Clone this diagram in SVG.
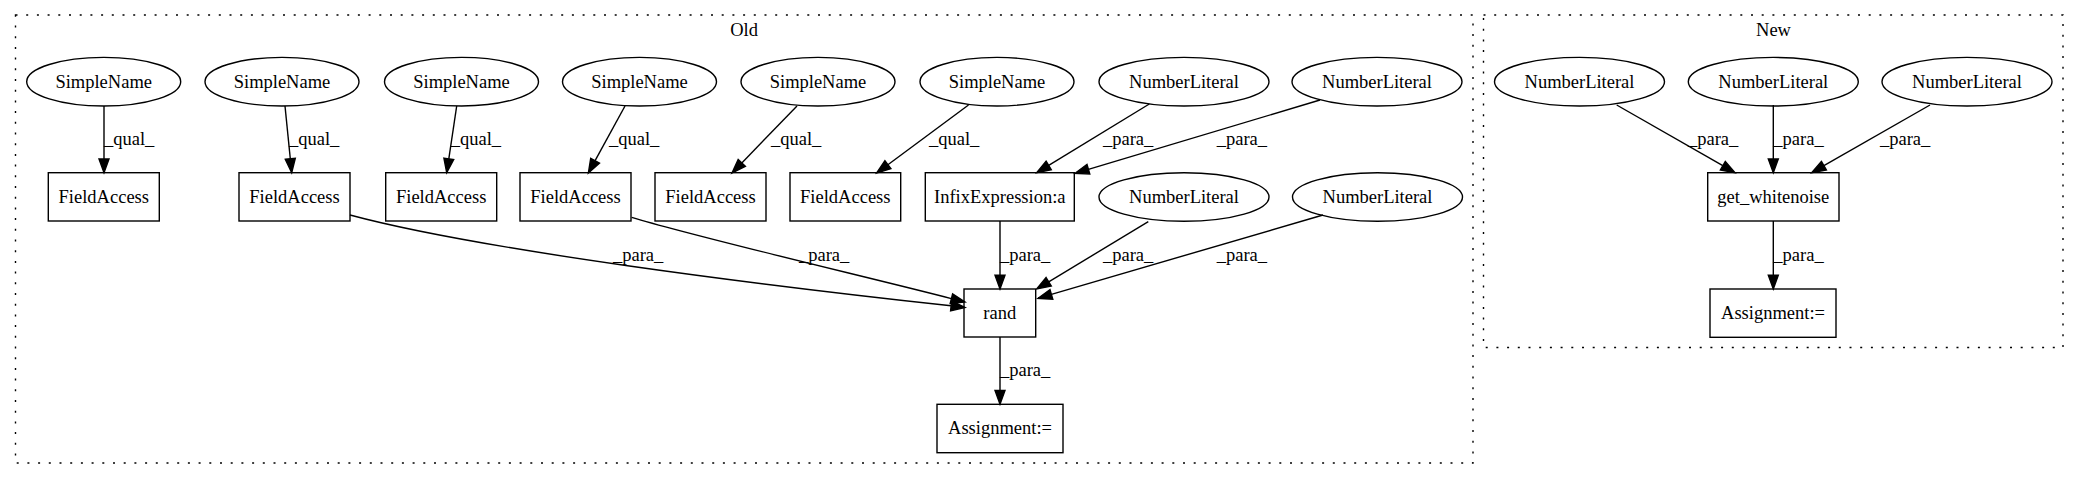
<svg xmlns="http://www.w3.org/2000/svg" width="2079" height="480" viewBox="0 0 2079 480">
<style>
text{font-family:"Liberation Serif","Times New Roman",serif;font-size:18.5px;fill:#000;text-anchor:middle}
.n{fill:none;stroke:#000;stroke-width:1.4}
.c{fill:none;stroke:#000;stroke-width:1.4;stroke-dasharray:2,8.7}
.e{fill:none;stroke:#000;stroke-width:1.4}
.a{fill:#000;stroke:#000;stroke-width:1.4}
.l{text-anchor:start}
</style>
<rect width="2079" height="480" fill="#fff"/>
<g id="cluster-old">
<rect class="c" x="15.5" y="15" width="1457.5" height="448"/>
<text x="744" y="35.5">Old</text>
</g>
<g id="cluster-new">
<rect class="c" x="1483.5" y="15" width="579.5" height="332.5"/>
<text x="1773.5" y="35.5">New</text>
</g>
<g id="sn1"><ellipse class="n" cx="103.7" cy="81.7" rx="77" ry="24.3"/><text x="103.7" y="87.5">SimpleName</text></g>
<g id="sn2"><ellipse class="n" cx="282" cy="81.7" rx="77" ry="24.3"/><text x="282" y="87.5">SimpleName</text></g>
<g id="sn3"><ellipse class="n" cx="461.5" cy="81.7" rx="77" ry="24.3"/><text x="461.5" y="87.5">SimpleName</text></g>
<g id="sn4"><ellipse class="n" cx="639.5" cy="81.7" rx="77" ry="24.3"/><text x="639.5" y="87.5">SimpleName</text></g>
<g id="sn5"><ellipse class="n" cx="818" cy="81.7" rx="77" ry="24.3"/><text x="818" y="87.5">SimpleName</text></g>
<g id="sn6"><ellipse class="n" cx="997" cy="81.7" rx="77" ry="24.3"/><text x="997" y="87.5">SimpleName</text></g>
<g id="nl1"><ellipse class="n" cx="1184" cy="81.7" rx="85" ry="24.3"/><text x="1184" y="87.5">NumberLiteral</text></g>
<g id="nl2"><ellipse class="n" cx="1377" cy="81.7" rx="85" ry="24.3"/><text x="1377" y="87.5">NumberLiteral</text></g>
<g id="fa1"><rect class="n" x="48.3" y="172.7" width="111" height="48.3"/><text x="103.8" y="202.5">FieldAccess</text></g>
<g id="fa2"><rect class="n" x="239" y="172.7" width="111" height="48.3"/><text x="294.5" y="202.5">FieldAccess</text></g>
<g id="fa3"><rect class="n" x="385.7" y="172.7" width="111" height="48.3"/><text x="441.2" y="202.5">FieldAccess</text></g>
<g id="fa4"><rect class="n" x="520" y="172.7" width="111" height="48.3"/><text x="575.5" y="202.5">FieldAccess</text></g>
<g id="fa5"><rect class="n" x="655" y="172.7" width="111" height="48.3"/><text x="710.5" y="202.5">FieldAccess</text></g>
<g id="fa6"><rect class="n" x="790" y="172.7" width="110.7" height="48.3"/><text x="845.3" y="202.5">FieldAccess</text></g>
<g id="infix"><rect class="n" x="925.3" y="172.7" width="149" height="48.3"/><text x="999.8" y="202.5">InfixExpression:a</text></g>
<g id="nl3"><ellipse class="n" cx="1184" cy="197" rx="85" ry="24.3"/><text x="1184" y="202.8">NumberLiteral</text></g>
<g id="nl4"><ellipse class="n" cx="1377.5" cy="197" rx="85" ry="24.3"/><text x="1377.5" y="202.8">NumberLiteral</text></g>
<g id="rand"><rect class="n" x="964" y="289" width="71.7" height="48"/><text x="999.8" y="318.6">rand</text></g>
<g id="assign-old"><rect class="n" x="937" y="404.3" width="126" height="48.4"/><text x="1000" y="434">Assignment:=</text></g>
<g id="nnl1"><ellipse class="n" cx="1579.5" cy="81.7" rx="85" ry="24.3"/><text x="1579.5" y="87.5">NumberLiteral</text></g>
<g id="nnl2"><ellipse class="n" cx="1773.3" cy="81.7" rx="85" ry="24.3"/><text x="1773.3" y="87.5">NumberLiteral</text></g>
<g id="nnl3"><ellipse class="n" cx="1967" cy="81.7" rx="85" ry="24.3"/><text x="1967" y="87.5">NumberLiteral</text></g>
<g id="gw"><rect class="n" x="1707.7" y="172.7" width="131.3" height="48.3"/><text x="1773.3" y="202.5">get_whitenoise</text></g>
<g id="assign-new"><rect class="n" x="1710" y="289" width="126" height="48.3"/><text x="1773" y="318.6">Assignment:=</text></g>
<g id="connectors">
<path class="e" d="M104,106 L104,159"/><polygon class="a" points="99,159 109,159 104,172.7"/>
<text class="l" x="104" y="144.5">_qual_</text>
<path class="e" d="M285,106 L290.3,158.8"/><polygon class="a" points="285.3,159.3 295.3,158.3 291.7,172.7"/>
<text class="l" x="289" y="144.5">_qual_</text>
<path class="e" d="M456.7,106 L448.8,158.9"/><polygon class="a" points="443.9,158.2 453.7,159.6 446.7,172.7"/>
<text class="l" x="450.7" y="144.5">_qual_</text>
<path class="e" d="M625,106 L595.1,160.7"/><polygon class="a" points="590.7,158.3 599.5,163.1 588.4,173"/>
<text class="l" x="609" y="144.5">_qual_</text>
<path class="e" d="M797,106 L741.8,162.9"/><polygon class="a" points="738.2,159.4 745.4,166.4 732,173"/>
<text class="l" x="771" y="144.5">_qual_</text>
<path class="e" d="M968.5,105 L887.9,164.7"/><polygon class="a" points="884.9,160.7 890.9,168.7 876.6,173"/>
<text class="l" x="929" y="144.5">_qual_</text>
<path class="e" d="M1149.3,104 L1048.7,165.4"/><polygon class="a" points="1046.1,161.1 1051.3,169.7 1036.7,172.7"/>
<text class="l" x="1103" y="144.5">_para_</text>
<path class="e" d="M1320,100 L1088.4,169.3"/><polygon class="a" points="1087,164.5 1089.8,174.1 1075,173.3"/>
<text class="l" x="1216.7" y="144.5">_para_</text>
<path class="e" d="M350,215 C480,250 760,285 951,305.8"/><polygon class="a" points="951.6,300.8 950.6,310.8 965,307.5"/>
<text class="l" x="613" y="260.5">_para_</text>
<path class="e" d="M631.7,217.3 C700,238 880,280 951.4,298.6"/><polygon class="a" points="952.6,293.8 950.2,303.4 965,302"/>
<text class="l" x="799" y="260.5">_para_</text>
<path class="e" d="M1000,221 L1000,275.3"/><polygon class="a" points="995,275.3 1005,275.3 1000,289"/>
<text class="l" x="1000" y="260.5">_para_</text>
<path class="e" d="M1148.3,221.7 L1048.7,281.8"/><polygon class="a" points="1046.1,277.5 1051.3,286.1 1036.7,289"/>
<text class="l" x="1103" y="260.5">_para_</text>
<path class="e" d="M1323,215 L1051.4,294.4"/><polygon class="a" points="1050,289.6 1052.8,299.2 1038,298.3"/>
<text class="l" x="1216.7" y="260.5">_para_</text>
<path class="e" d="M1000,337 L1000,390.5"/><polygon class="a" points="995,390.5 1005,390.5 1000,404.3"/>
<text class="l" x="1000" y="376">_para_</text>
<path class="e" d="M1616.7,105 L1722.8,165.7"/><polygon class="a" points="1720.3,170 1725.3,161.4 1735,172.7"/>
<text class="l" x="1688" y="145">_para_</text>
<path class="e" d="M1773.3,105 L1773.3,159"/><polygon class="a" points="1768.3,159 1778.3,159 1773.3,172.7"/>
<text class="l" x="1773.3" y="145">_para_</text>
<path class="e" d="M1930,105 L1823.9,165.7"/><polygon class="a" points="1821.4,161.4 1826.4,170 1811.7,172.7"/>
<text class="l" x="1880" y="145">_para_</text>
<path class="e" d="M1773.3,221 L1773.3,275.3"/><polygon class="a" points="1768.3,275.3 1778.3,275.3 1773.3,289"/>
<text class="l" x="1773.3" y="260.5">_para_</text>
</g>
</svg>
